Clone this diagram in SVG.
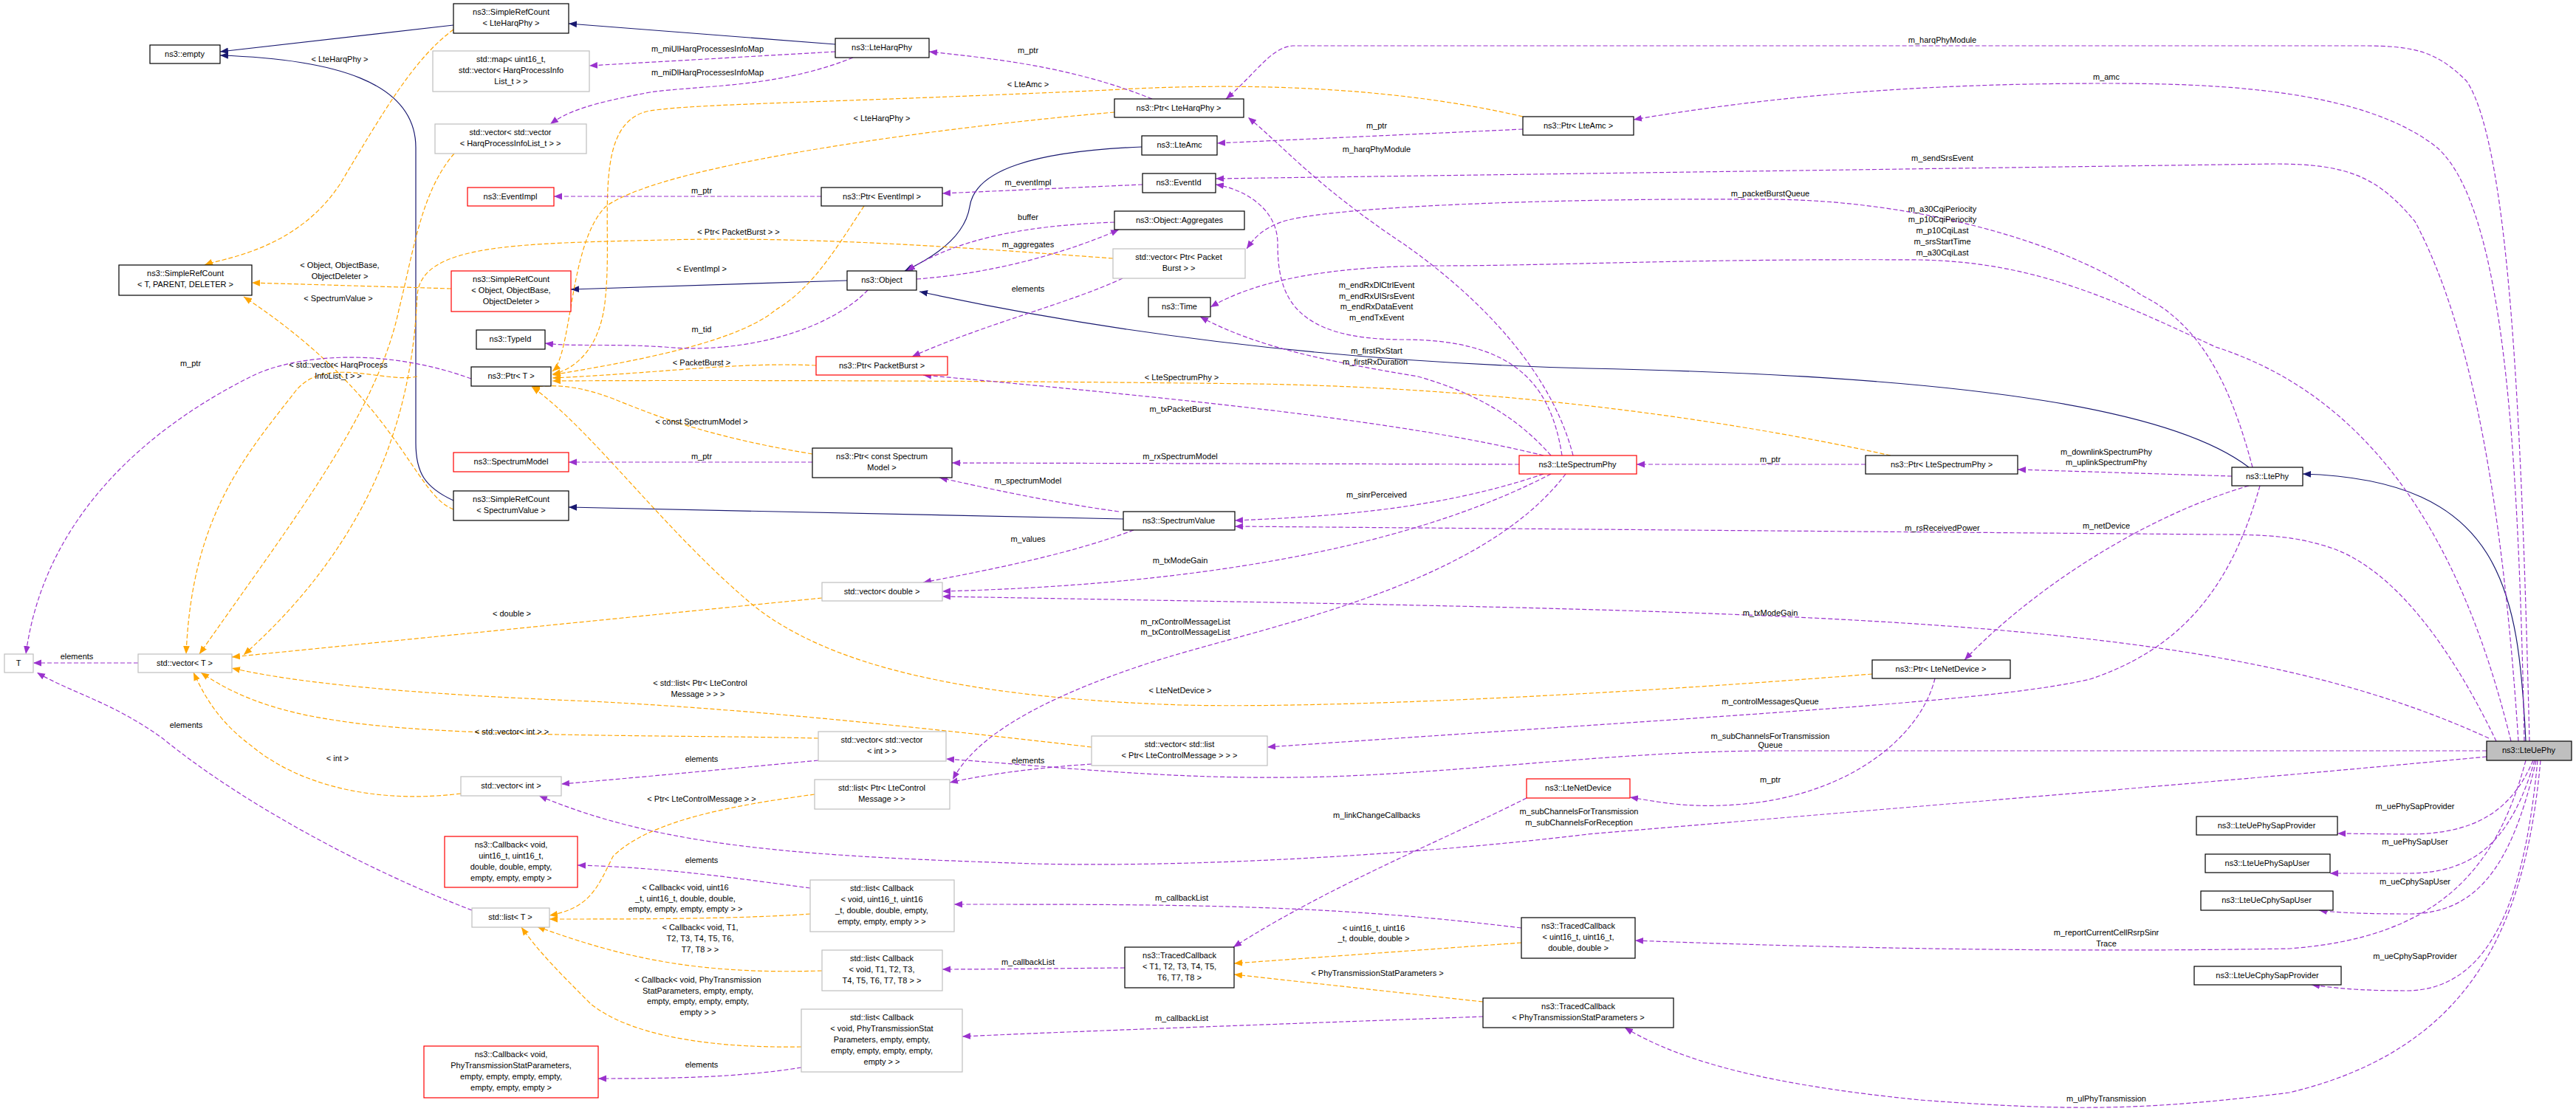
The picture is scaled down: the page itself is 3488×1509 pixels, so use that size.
<svg xmlns="http://www.w3.org/2000/svg" width="3488" height="1509" viewBox="0 0 3488 1509">
<style>
text{font-family:"Liberation Sans",Arial,sans-serif;font-size:11px;text-anchor:middle;fill:#000}
.nd rect{fill:#fff;stroke:#000;stroke-width:1.2}
.nd.r rect{stroke:#ff0000}
.nd.g rect{stroke:#bfbfbf}
.nd.cur rect{fill:#bfbfbf}
.p{fill:none;stroke:#9a32cd;stroke-dasharray:6,3;stroke-width:1.2;marker-end:url(#mp)}
.o{fill:none;stroke:#ffa500;stroke-dasharray:6,3;stroke-width:1.2;marker-end:url(#mo)}
.b{fill:none;stroke:#191970;stroke-width:1.2;marker-end:url(#mb)}
</style>
<defs>
<marker id="mp" viewBox="0 0 10 10" refX="10" refY="5" markerWidth="11" markerHeight="11" orient="auto" markerUnits="userSpaceOnUse"><path d="M0,1L10,5L0,9z" fill="#9a32cd"/></marker>
<marker id="mo" viewBox="0 0 10 10" refX="10" refY="5" markerWidth="11" markerHeight="11" orient="auto" markerUnits="userSpaceOnUse"><path d="M0,1L10,5L0,9z" fill="#ffa500"/></marker>
<marker id="mb" viewBox="0 0 10 10" refX="10" refY="5" markerWidth="11" markerHeight="11" orient="auto" markerUnits="userSpaceOnUse"><path d="M0,1L10,5L0,9z" fill="#191970"/></marker>
</defs>
<rect width="3488" height="1509" fill="#fff"/>
<g id="edges">
<path class="b" d="M614,34 L298,70"/>
<path class="b" d="M1131,60 L770,32"/>
<path class="b" d="M614,678 C575,660 563,640 563,600 L563,200 C563,110 450,80 298,75"/>
<path class="b" d="M1147,380 L773,392"/>
<path class="b" d="M1546,199 C1400,205 1320,230 1313,280 C1305,330 1240,360 1225,367"/>
<path class="b" d="M3045,633 C2950,560 2700,510 2150,499 C1800,490 1500,450 1245,395"/>
<path class="b" d="M1521,703 L770,687"/>
<path class="b" d="M3420,1004 C3410,800 3390,650 3118,642"/>
<path class="o" d="M614,40 C560,80 520,150 460,250 C400,340 300,350 277,359"/>
<text x="460" y="84">&lt; LteHarqPhy &gt;</text>
<path class="o" d="M611,391 L341,383"/>
<text x="460" y="363">&lt; Object, ObjectBase,</text><text x="460" y="378">ObjectDeleter &gt;</text>
<path class="o" d="M614,690 C560,670 540,540 330,402"/>
<text x="458" y="408">&lt; SpectrumValue &gt;</text>
<path class="o" d="M1509,152 C1300,170 900,220 820,280 C770,330 775,480 748,503"/>
<text x="1194" y="164">&lt; LteHarqPhy &gt;</text>
<path class="o" d="M2062,158 C1900,120 1700,110 1500,122 C1100,140 950,140 880,150 C800,165 830,300 820,400 C815,470 780,500 748,507"/>
<text x="1392" y="118">&lt; LteAmc &gt;</text>
<path class="o" d="M1170,279 C1130,340 1100,390 1050,420 C990,470 820,495 748,508"/>
<text x="950" y="368">&lt; EventImpl &gt;</text>
<path class="o" d="M1507,350 C1300,335 1100,320 900,325 C700,330 570,330 565,400 C560,500 540,700 330,887"/>
<text x="1000" y="318">&lt; Ptr&lt; PacketBurst &gt; &gt;</text>
<path class="o" d="M1105,495 C1000,490 900,505 748,512"/>
<text x="950" y="495">&lt; PacketBurst &gt;</text>
<path class="o" d="M2560,617 C2300,560 2000,525 1700,520 C1300,515 900,515 748,516"/>
<text x="1600" y="515">&lt; LteSpectrumPhy &gt;</text>
<path class="o" d="M1100,615 C950,590 880,560 830,540 C790,525 760,520 720,524"/>
<text x="950" y="575">&lt; const SpectrumModel &gt;</text>
<path class="o" d="M2535,913 C2200,940 1800,960 1600,955 C1300,945 1120,900 1020,820 C900,720 800,580 720,524"/>
<text x="1598" y="939">&lt; LteNetDevice &gt;</text>
<path class="o" d="M1113,810 L314,890"/>
<text x="693" y="835">&lt; double &gt;</text>
<path class="o" d="M1478,1012 C1200,980 1000,960 800,950 C550,940 400,925 314,905"/>
<text x="948" y="929">&lt; std::list&lt; Ptr&lt; LteControl</text><text x="945" y="944">Message &gt; &gt; &gt;</text>
<path class="o" d="M1108,1000 C900,995 600,1000 450,975 C350,960 300,930 272,911"/>
<text x="693" y="995">&lt; std::vector&lt; int &gt; &gt;</text>
<path class="o" d="M624,1075 C500,1090 400,1060 340,1010 C300,980 280,950 262,911"/>
<text x="457" y="1031">&lt; int &gt;</text>
<path class="o" d="M615,208 C570,260 560,340 540,420 C510,560 400,700 270,886"/>
<path class="o" d="M565,510 C520,520 440,480 400,530 C330,620 260,700 252,886"/>
<text x="458" y="498">&lt; std::vector&lt; HarqProcess</text><text x="458" y="513">InfoList_t &gt; &gt;</text>
<path class="o" d="M1103,1076 C1000,1090 880,1110 830,1160 C810,1200 800,1230 744,1240"/>
<text x="950" y="1086">&lt; Ptr&lt; LteControlMessage &gt; &gt;</text>
<path class="o" d="M1097,1238 C1000,1245 850,1245 744,1245"/>
<text x="928" y="1206">&lt; Callback&lt; void, uint16</text><text x="928" y="1221">_t, uint16_t, double, double,</text><text x="928" y="1235">empty, empty, empty, empty &gt; &gt;</text>
<path class="o" d="M1113,1315 C950,1320 850,1300 727,1255"/>
<text x="948" y="1260">&lt; Callback&lt; void, T1,</text><text x="948" y="1275">T2, T3, T4, T5, T6,</text><text x="948" y="1290">T7, T8 &gt; &gt;</text>
<path class="o" d="M1085,1418 C950,1420 850,1400 800,1360 C760,1320 730,1290 706,1256"/>
<text x="945" y="1331">&lt; Callback&lt; void, PhyTransmission</text><text x="945" y="1346">StatParameters, empty, empty,</text><text x="945" y="1360">empty, empty, empty, empty,</text><text x="945" y="1375">empty &gt; &gt;</text>
<path class="o" d="M2060,1277 L1671,1305"/>
<text x="1860" y="1261">&lt; uint16_t, uint16</text><text x="1860" y="1275">_t, double, double &gt;</text>
<path class="o" d="M2008,1357 L1671,1320"/>
<text x="1865" y="1322">&lt; PhyTransmissionStatParameters &gt;</text>
<path class="p" d="M1131,70 L798,89"/><text x="958" y="70">m_miUlHarqProcessesInfoMap</text>
<path class="p" d="M1155,78 C1050,120 950,115 880,125 C800,140 770,150 745,168"/><text x="958" y="102">m_miDlHarqProcessesInfoMap</text>
<path class="p" d="M1112,266 L750,266"/><text x="950" y="262">m_ptr</text>
<path class="p" d="M1560,134 C1450,90 1350,80 1258,70"/><text x="1392" y="72">m_ptr</text>
<path class="p" d="M2062,175 L1648,194"/><text x="1864" y="174">m_ptr</text>
<path class="p" d="M1547,250 L1276,262"/><text x="1392" y="251">m_eventImpl</text>
<path class="p" d="M1241,378 C1350,370 1450,340 1515,311"/><text x="1392" y="335">m_aggregates</text>
<path class="p" d="M1509,301 C1400,305 1300,320 1228,367"/><text x="1392" y="298">buffer</text>
<path class="p" d="M1520,377 C1450,410 1330,440 1235,483"/><text x="1392" y="395">elements</text>
<path class="p" d="M1175,393 C1120,450 1000,480 900,470 C820,465 780,470 738,465"/><text x="950" y="450">m_tid</text>
<path class="p" d="M638,513 C520,470 400,480 340,510 C200,580 60,700 35,886"/><text x="258" y="496">m_ptr</text>
<path class="p" d="M187,898 L45,898"/><text x="104" y="893">elements</text>
<path class="p" d="M639,1233 C500,1180 330,1090 220,1000 C150,950 100,940 50,911"/><text x="252" y="986">elements</text>
<path class="p" d="M1100,626 L770,626"/><text x="950" y="622">m_ptr</text>
<path class="p" d="M1515,693 C1420,680 1330,660 1272,647"/><text x="1392" y="655">m_spectrumModel</text>
<path class="p" d="M1535,718 C1450,750 1350,770 1250,789"/><text x="1392" y="734">m_values</text>
<path class="p" d="M1108,1030 C1000,1040 900,1050 760,1062"/><text x="950" y="1032">elements</text>
<path class="p" d="M1478,1035 C1400,1040 1330,1050 1286,1060"/><text x="1392" y="1034">elements</text>
<path class="p" d="M1097,1203 C1000,1190 900,1175 782,1172"/><text x="950" y="1169">elements</text>
<path class="p" d="M1085,1446 C1000,1460 900,1461 810,1461"/><text x="950" y="1446">elements</text>
<path class="p" d="M1523,1311 C1400,1312 1350,1313 1276,1313"/><text x="1392" y="1307">m_callbackList</text>
<path class="p" d="M2060,1257 C1800,1225 1600,1225 1292,1225"/><text x="1600" y="1220">m_callbackList</text>
<path class="p" d="M2008,1377 C1800,1385 1500,1395 1303,1404"/><text x="1600" y="1383">m_callbackList</text>
<path class="p" d="M2067,1081 C1950,1140 1800,1200 1670,1283"/><text x="1864" y="1108">m_linkChangeCallbacks</text>
<path class="p" d="M2526,629 L2216,629"/><text x="2397" y="626">m_ptr</text>
<path class="p" d="M3022,645 L2732,636"/><text x="2852" y="616">m_downlinkSpectrumPhy</text><text x="2852" y="630">m_uplinkSpectrumPhy</text>
<path class="p" d="M3045,658 C2900,700 2750,800 2660,894"/><text x="2852" y="716">m_netDevice</text>
<path class="p" d="M2620,919 C2600,1000 2500,1080 2350,1090 C2280,1095 2240,1085 2207,1080"/><text x="2397" y="1060">m_ptr</text>
<path class="p" d="M3060,658 C3020,800 2950,880 2830,920 C2700,950 2400,965 1716,1012"/><text x="2397" y="954">m_controlMessagesQueue</text>
<path class="p" d="M3050,633 C3020,520 2980,440 2900,400 C2800,330 2600,272 2400,270 C2100,268 1800,280 1737,300 C1710,310 1700,320 1688,337"/><text x="2397" y="266">m_packetBurstQueue</text>
<path class="p" d="M2090,617 C1900,570 1600,540 1250,508"/><text x="1598" y="558">m_txPacketBurst</text>
<path class="p" d="M2057,629 L1289,627"/><text x="1598" y="622">m_rxSpectrumModel</text>
<path class="p" d="M2090,642 C1950,690 1800,700 1672,705"/><text x="1864" y="674">m_sinrPerceived</text>
<path class="p" d="M2100,642 C1950,720 1700,790 1276,801"/><text x="1598" y="763">m_txModeGain</text>
<path class="p" d="M2120,642 C2000,800 1700,850 1550,900 C1400,950 1320,1000 1290,1056"/><text x="1605" y="846">m_rxControlMessageList</text><text x="1605" y="860">m_txControlMessageList</text>
<path class="p" d="M2130,617 C2100,500 2000,400 1900,330 C1780,250 1740,200 1690,159"/><text x="1864" y="206">m_harqPhyModule</text>
<path class="p" d="M2115,617 C2100,520 2050,460 1900,460 C1750,460 1730,400 1730,330 C1730,280 1680,255 1646,250"/><text x="1864" y="390">m_endRxDlCtrlEvent</text><text x="1864" y="405">m_endRxUlSrsEvent</text><text x="1864" y="419">m_endRxDataEvent</text><text x="1864" y="434">m_endTxEvent</text>
<path class="p" d="M2100,617 C2050,560 1990,530 1920,510 C1800,490 1700,470 1625,429"/><text x="1864" y="479">m_firstRxStart</text><text x="1862" y="494">m_firstRxDuration</text>
<path class="p" d="M3425,1004 C3415,600 3400,200 3340,110 C3300,70 3270,62 3200,62 L1750,62 C1720,65 1700,100 1660,134"/><text x="2630" y="58">m_harqPhyModule</text>
<path class="p" d="M3418,1004 C3410,600 3390,280 3300,200 C3200,120 3000,113 2850,113 C2600,113 2400,130 2212,162"/><text x="2852" y="108">m_amc</text>
<path class="p" d="M3410,1004 C3390,700 3350,450 3270,300 C3220,240 3180,222 3080,222 L1646,242"/><text x="2630" y="218">m_sendSrsEvent</text>
<path class="p" d="M3400,1004 C3350,800 3250,550 3000,470 C2850,400 2750,355 2600,352 C2300,350 2100,360 1950,360 C1800,360 1700,380 1639,416"/><text x="2630" y="287">m_a30CqiPeriocity</text><text x="2630" y="301">m_p10CqiPeriocity</text><text x="2630" y="316">m_p10CqiLast</text><text x="2630" y="331">m_srsStartTime</text><text x="2630" y="346">m_a30CqiLast</text>
<path class="p" d="M3380,1004 C3330,900 3250,770 3150,740 C3110,728 3080,724 3000,724 L1672,713"/><text x="2630" y="719">m_rsReceivedPower</text>
<path class="p" d="M3370,1000 C3000,830 2500,830 1276,808"/><text x="2397" y="834">m_txModeGain</text>
<path class="p" d="M3367,1017 L2400,1017 C2200,1017 2000,1045 1800,1052 C1600,1058 1450,1040 1281,1028"/><text x="2397" y="1001">m_subChannelsForTransmission</text><text x="2397" y="1013">Queue</text>
<path class="p" d="M3367,1025 C3000,1060 2500,1100 2150,1130 C1900,1160 1600,1175 1400,1170 C1100,1160 900,1150 730,1078"/><text x="2138" y="1103">m_subChannelsForTransmission</text><text x="2138" y="1118">m_subChannelsForReception</text>
<path class="p" d="M3430,1030 C3400,1100 3350,1130 3260,1130 L3165,1129"/><text x="3270" y="1096">m_uePhySapProvider</text>
<path class="p" d="M3432,1030 C3400,1140 3350,1183 3260,1183 L3155,1183"/><text x="3270" y="1144">m_uePhySapUser</text>
<path class="p" d="M3434,1030 C3400,1180 3350,1238 3260,1238 C3200,1238 3160,1236 3140,1233"/><text x="3270" y="1198">m_ueCphySapUser</text>
<path class="p" d="M3420,1030 C3380,1180 3300,1270 3100,1285 C2800,1290 2500,1285 2214,1274"/><text x="2852" y="1267">m_reportCurrentCellRsrpSinr</text><text x="2852" y="1282">Trace</text>
<path class="p" d="M3436,1030 C3420,1200 3380,1340 3260,1342 C3190,1342 3160,1338 3130,1334"/><text x="3270" y="1299">m_ueCphySapProvider</text>
<path class="p" d="M3440,1030 C3420,1250 3350,1420 3100,1480 C2900,1505 2800,1505 2600,1490 C2400,1470 2280,1440 2200,1392"/><text x="2852" y="1492">m_ulPhyTransmission</text>
</g>
<g id="n_empty" class="nd"><rect x="203" y="61" width="95" height="25"/><text x="250" y="77">ns3::empty</text></g>
<g id="n_srcHarq" class="nd"><rect x="614" y="5" width="156" height="40"/><text x="692" y="20">ns3::SimpleRefCount</text><text x="692" y="35">&lt; LteHarqPhy &gt;</text></g>
<g id="n_map" class="nd g"><rect x="586" y="69" width="212" height="55"/><text x="692" y="84">std::map&lt; uint16_t,</text><text x="692" y="99">std::vector&lt; HarqProcessInfo</text><text x="692" y="114">List_t &gt; &gt;</text></g>
<g id="n_vvharq" class="nd g"><rect x="589" y="168" width="205" height="40"/><text x="691" y="183">std::vector&lt; std::vector</text><text x="691" y="198">&lt; HarqProcessInfoList_t &gt; &gt;</text></g>
<g id="n_eventimpl" class="nd r"><rect x="633" y="254" width="117" height="25"/><text x="691" y="270">ns3::EventImpl</text></g>
<g id="n_srcT" class="nd"><rect x="161" y="359" width="180" height="41"/><text x="251" y="374">ns3::SimpleRefCount</text><text x="251" y="389">&lt; T, PARENT, DELETER &gt;</text></g>
<g id="n_srcObj" class="nd r"><rect x="611" y="367" width="162" height="55"/><text x="692" y="382">ns3::SimpleRefCount</text><text x="692" y="397">&lt; Object, ObjectBase,</text><text x="692" y="412">ObjectDeleter &gt;</text></g>
<g id="n_typeid" class="nd"><rect x="645" y="447" width="93" height="26"/><text x="691" y="463">ns3::TypeId</text></g>
<g id="n_ptrT" class="nd"><rect x="638" y="497" width="108" height="26"/><text x="692" y="513">ns3::Ptr&lt; T &gt;</text></g>
<g id="n_specmodel" class="nd r"><rect x="614" y="613" width="156" height="26"/><text x="692" y="629">ns3::SpectrumModel</text></g>
<g id="n_srcSV" class="nd"><rect x="614" y="665" width="156" height="40"/><text x="692" y="680">ns3::SimpleRefCount</text><text x="692" y="695">&lt; SpectrumValue &gt;</text></g>
<g id="n_T" class="nd g"><rect x="6" y="886" width="39" height="25"/><text x="25" y="902">T</text></g>
<g id="n_vecT" class="nd g"><rect x="187" y="886" width="127" height="25"/><text x="250" y="902">std::vector&lt; T &gt;</text></g>
<g id="n_vecint" class="nd g"><rect x="624" y="1052" width="136" height="26"/><text x="692" y="1068">std::vector&lt; int &gt;</text></g>
<g id="n_cbU16" class="nd r"><rect x="602" y="1133" width="180" height="69"/><text x="692" y="1148">ns3::Callback&lt; void,</text><text x="692" y="1163">uint16_t, uint16_t,</text><text x="692" y="1178">double, double, empty,</text><text x="692" y="1193">empty, empty, empty &gt;</text></g>
<g id="n_listT" class="nd g"><rect x="639" y="1230" width="105" height="26"/><text x="691" y="1246">std::list&lt; T &gt;</text></g>
<g id="n_cbPhy" class="nd r"><rect x="574" y="1417" width="236" height="70"/><text x="692" y="1432">ns3::Callback&lt; void,</text><text x="692" y="1447">PhyTransmissionStatParameters,</text><text x="692" y="1462">empty, empty, empty, empty,</text><text x="692" y="1477">empty, empty, empty &gt;</text></g>
<g id="n_harqphy" class="nd"><rect x="1131" y="52" width="127" height="26"/><text x="1194" y="68">ns3::LteHarqPhy</text></g>
<g id="n_ptrHarq" class="nd"><rect x="1509" y="134" width="175" height="25"/><text x="1596" y="150">ns3::Ptr&lt; LteHarqPhy &gt;</text></g>
<g id="n_ptrAmc" class="nd"><rect x="2062" y="158" width="150" height="25"/><text x="2137" y="174">ns3::Ptr&lt; LteAmc &gt;</text></g>
<g id="n_amc" class="nd"><rect x="1546" y="184" width="102" height="26"/><text x="1597" y="200">ns3::LteAmc</text></g>
<g id="n_eventid" class="nd"><rect x="1547" y="235" width="99" height="26"/><text x="1596" y="251">ns3::EventId</text></g>
<g id="n_ptrEvImpl" class="nd"><rect x="1112" y="254" width="164" height="25"/><text x="1194" y="270">ns3::Ptr&lt; EventImpl &gt;</text></g>
<g id="n_aggr" class="nd"><rect x="1509" y="286" width="176" height="25"/><text x="1597" y="302">ns3::Object::Aggregates</text></g>
<g id="n_vecPB" class="nd g"><rect x="1507" y="337" width="179" height="40"/><text x="1596" y="352">std::vector&lt; Ptr&lt; Packet</text><text x="1596" y="367">Burst &gt; &gt;</text></g>
<g id="n_object" class="nd"><rect x="1147" y="367" width="94" height="26"/><text x="1194" y="383">ns3::Object</text></g>
<g id="n_time" class="nd"><rect x="1555" y="403" width="84" height="26"/><text x="1597" y="419">ns3::Time</text></g>
<g id="n_ptrPB" class="nd r"><rect x="1105" y="483" width="178" height="25"/><text x="1194" y="499">ns3::Ptr&lt; PacketBurst &gt;</text></g>
<g id="n_ptrSM" class="nd"><rect x="1100" y="607" width="189" height="40"/><text x="1194" y="622">ns3::Ptr&lt; const Spectrum</text><text x="1194" y="637">Model &gt;</text></g>
<g id="n_specphy" class="nd r"><rect x="2057" y="617" width="159" height="25"/><text x="2136" y="633">ns3::LteSpectrumPhy</text></g>
<g id="n_specval" class="nd"><rect x="1521" y="693" width="151" height="25"/><text x="1596" y="709">ns3::SpectrumValue</text></g>
<g id="n_vecdbl" class="nd g"><rect x="1113" y="789" width="163" height="25"/><text x="1194" y="805">std::vector&lt; double &gt;</text></g>
<g id="n_vvint" class="nd g"><rect x="1108" y="991" width="173" height="40"/><text x="1194" y="1006">std::vector&lt; std::vector</text><text x="1194" y="1021">&lt; int &gt; &gt;</text></g>
<g id="n_vlistCM" class="nd g"><rect x="1478" y="997" width="238" height="40"/><text x="1597" y="1012">std::vector&lt; std::list</text><text x="1597" y="1027">&lt; Ptr&lt; LteControlMessage &gt; &gt; &gt;</text></g>
<g id="n_listCM" class="nd g"><rect x="1103" y="1056" width="183" height="40"/><text x="1194" y="1071">std::list&lt; Ptr&lt; LteControl</text><text x="1194" y="1086">Message &gt; &gt;</text></g>
<g id="n_netdev" class="nd r"><rect x="2067" y="1055" width="140" height="26"/><text x="2137" y="1071">ns3::LteNetDevice</text></g>
<g id="n_listCbU16" class="nd g"><rect x="1097" y="1192" width="195" height="70"/><text x="1194" y="1207">std::list&lt; Callback</text><text x="1194" y="1222">&lt; void, uint16_t, uint16</text><text x="1194" y="1237">_t, double, double, empty,</text><text x="1194" y="1252">empty, empty, empty &gt; &gt;</text></g>
<g id="n_listCbT" class="nd g"><rect x="1113" y="1287" width="163" height="55"/><text x="1194" y="1302">std::list&lt; Callback</text><text x="1194" y="1317">&lt; void, T1, T2, T3,</text><text x="1194" y="1332">T4, T5, T6, T7, T8 &gt; &gt;</text></g>
<g id="n_listCbPhy" class="nd g"><rect x="1085" y="1367" width="218" height="85"/><text x="1194" y="1382">std::list&lt; Callback</text><text x="1194" y="1397">&lt; void, PhyTransmissionStat</text><text x="1194" y="1412">Parameters, empty, empty,</text><text x="1194" y="1427">empty, empty, empty, empty,</text><text x="1194" y="1442">empty &gt; &gt;</text></g>
<g id="n_tcT" class="nd"><rect x="1523" y="1283" width="148" height="55"/><text x="1597" y="1298">ns3::TracedCallback</text><text x="1597" y="1313">&lt; T1, T2, T3, T4, T5,</text><text x="1597" y="1328">T6, T7, T8 &gt;</text></g>
<g id="n_tcU16" class="nd"><rect x="2060" y="1243" width="154" height="55"/><text x="2137" y="1258">ns3::TracedCallback</text><text x="2137" y="1273">&lt; uint16_t, uint16_t,</text><text x="2137" y="1288">double, double &gt;</text></g>
<g id="n_tcPhy" class="nd"><rect x="2008" y="1352" width="258" height="40"/><text x="2137" y="1367">ns3::TracedCallback</text><text x="2137" y="1382">&lt; PhyTransmissionStatParameters &gt;</text></g>
<g id="n_ptrSpecPhy" class="nd"><rect x="2526" y="617" width="206" height="25"/><text x="2629" y="633">ns3::Ptr&lt; LteSpectrumPhy &gt;</text></g>
<g id="n_ltephy" class="nd"><rect x="3022" y="633" width="96" height="25"/><text x="3070" y="649">ns3::LtePhy</text></g>
<g id="n_ptrNetDev" class="nd"><rect x="2535" y="894" width="187" height="25"/><text x="2628" y="910">ns3::Ptr&lt; LteNetDevice &gt;</text></g>
<g id="n_uephy" class="nd cur"><rect x="3367" y="1004" width="115" height="26"/><text x="3424" y="1020">ns3::LteUePhy</text></g>
<g id="n_sapProv" class="nd"><rect x="2974" y="1106" width="191" height="25"/><text x="3069" y="1122">ns3::LteUePhySapProvider</text></g>
<g id="n_sapUser" class="nd"><rect x="2986" y="1157" width="169" height="25"/><text x="3070" y="1173">ns3::LteUePhySapUser</text></g>
<g id="n_csapUser" class="nd"><rect x="2980" y="1207" width="179" height="26"/><text x="3069" y="1223">ns3::LteUeCphySapUser</text></g>
<g id="n_csapProv" class="nd"><rect x="2971" y="1309" width="199" height="25"/><text x="3070" y="1325">ns3::LteUeCphySapProvider</text></g>
</svg>
